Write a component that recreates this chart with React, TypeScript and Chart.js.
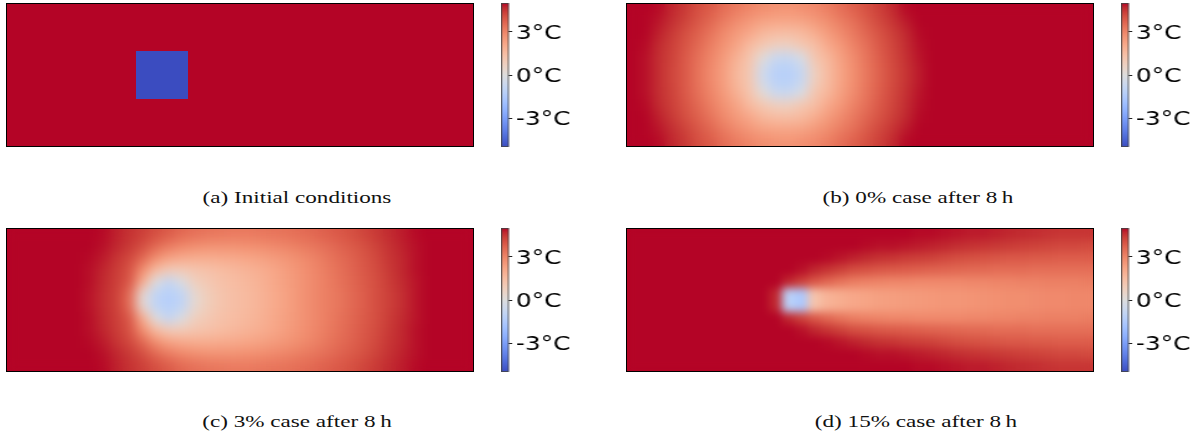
import React, { useEffect, useRef } from "react";
import { Chart, registerables } from "chart.js";

Chart.register(...registerables);

// ---------- colour scale (coolwarm) ----------
const CB_MIN = -5;
const CB_MAX = 5;
const cbTicks = [-3, 0, 3];
const COOLWARM: number[][] = [
  [59, 76, 192], [68, 90, 204], [77, 104, 215], [87, 117, 225], [98, 130, 234],
  [108, 142, 241], [119, 154, 247], [130, 165, 251], [141, 176, 254], [152, 185, 255],
  [163, 194, 255], [174, 201, 253], [184, 208, 249], [194, 213, 244], [204, 217, 238],
  [213, 219, 230], [221, 221, 221], [229, 216, 209], [236, 211, 197], [241, 204, 185],
  [245, 196, 173], [247, 187, 160], [247, 177, 148], [247, 166, 135], [244, 154, 123],
  [241, 141, 111], [236, 127, 99], [229, 112, 88], [222, 96, 77], [213, 80, 66],
  [203, 62, 56], [192, 40, 47], [180, 4, 38],
];

function coolwarm(v: number): string {
  const t = Math.min(1, Math.max(0, (v - CB_MIN) / (CB_MAX - CB_MIN)));
  const p = t * (COOLWARM.length - 1);
  const k = Math.min(COOLWARM.length - 2, Math.floor(p));
  const f = p - k;
  const a = COOLWARM[k];
  const b = COOLWARM[k + 1];
  const c = [0, 1, 2].map((i) => Math.round(a[i] + (b[i] - a[i]) * f));
  return `rgb(${c[0]}, ${c[1]}, ${c[2]})`;
}

// ---------- temperature fields (°C), 36 columns, rows listed top to bottom ----------
// (a) initial conditions
const aEdge = [5,5,5,5,5,5,5,5,5,5,5,5,5,5,5,5,5,5,5,5,5,5,5,5,5,5,5,5,5,5,5,5,5,5,5,5];
const aBlock = [5,5,5,5,5,5,5,5,5,5,-5,-5,-5,-5,5,5,5,5,5,5,5,5,5,5,5,5,5,5,5,5,5,5,5,5,5,5];
const fieldA = [aEdge, aEdge, aEdge, aEdge, aBlock, aBlock, aBlock, aBlock, aEdge, aEdge, aEdge, aEdge];

// (b) 0% case after 8 h
const b66 = [5,5,4.95,4.7,4.45,4.1,3.85,3.5,3.2,3.0,2.8,2.7,2.65,2.75,2.9,3.15,3.45,3.75,4.05,4.35,4.65,4.95,5,5,5,5,5,5,5,5,5,5,5,5,5,5];
const b54 = [5,5,4.85,4.6,4.3,3.95,3.6,3.2,2.85,2.55,2.3,2.2,2.2,2.25,2.5,2.8,3.15,3.45,3.85,4.2,4.5,4.8,5,5,5,5,5,5,5,5,5,5,5,5,5,5];
const b42 = [5,5,4.75,4.45,4.1,3.75,3.35,2.9,2.5,2.15,1.7,1.5,1.45,1.6,2.0,2.45,2.85,3.25,3.65,4.0,4.35,4.65,4.95,5,5,5,5,5,5,5,5,5,5,5,5,5];
const b30 = [5,4.95,4.65,4.35,4.0,3.6,3.15,2.7,2.25,1.6,1.15,0.8,0.75,1.15,1.45,2.1,2.55,3.05,3.45,3.9,4.25,4.6,4.9,5,5,5,5,5,5,5,5,5,5,5,5,5];
const b18 = [5,4.9,4.6,4.3,3.9,3.45,3.0,2.5,1.9,1.25,0.2,-0.7,-0.75,-0.2,1.2,1.7,2.35,2.85,3.35,3.8,4.2,4.55,4.85,5,5,5,5,5,5,5,5,5,5,5,5,5];
const b06 = [5,4.9,4.6,4.25,3.9,3.4,2.9,2.4,1.7,1.15,-0.5,-1.2,-1.25,-0.8,0.8,1.55,2.25,2.8,3.3,3.75,4.15,4.5,4.8,5,5,5,5,5,5,5,5,5,5,5,5,5];
const fieldB = [b66, b54, b42, b30, b18, b06, b06, b18, b30, b42, b54, b66];

// (c) 3% case after 8 h
const c66 = [5,5,5,5,5,5,5,4.95,4.75,4.55,4.35,4.1,3.85,3.6,3.45,3.35,3.3,3.25,3.25,3.3,3.35,3.4,3.5,3.6,3.75,3.9,4.05,4.25,4.45,4.65,4.8,4.95,5,5,5,5];
const c54 = [5,5,5,5,5,5,5,4.9,4.7,4.45,4.1,3.6,3.2,2.95,2.8,2.7,2.7,2.7,2.75,2.8,2.9,3.0,3.15,3.3,3.45,3.65,3.85,4.05,4.3,4.55,4.75,4.9,5,5,5,5];
const c42 = [5,5,5,5,5,5,4.95,4.8,4.5,4.2,3.6,2.8,2.3,2.1,2.0,2.0,2.05,2.1,2.2,2.3,2.45,2.6,2.8,3.0,3.25,3.5,3.7,3.95,4.2,4.5,4.7,4.9,5,5,5,5];
const c30 = [5,5,5,5,5,5,4.9,4.7,4.4,4.0,2.8,1.6,1.0,1.0,1.2,1.35,1.5,1.65,1.8,1.95,2.15,2.4,2.65,2.9,3.15,3.4,3.65,3.9,4.15,4.45,4.7,4.9,5,5,5,5];
const c18 = [5,5,5,5,5,5,4.9,4.65,4.35,3.9,2.0,0.0,-0.9,-0.1,0.8,1.1,1.35,1.5,1.65,1.85,2.1,2.35,2.6,2.85,3.1,3.35,3.6,3.85,4.1,4.4,4.65,4.85,5,5,5,5];
const c06 = [5,5,5,5,5,5,4.85,4.6,4.3,3.5,0.3,-1.0,-1.3,-1.0,0.3,0.9,1.25,1.45,1.6,1.8,2.05,2.3,2.6,2.85,3.1,3.3,3.55,3.8,4.1,4.35,4.6,4.85,5,5,5,5];
const fieldC = [c66, c54, c42, c30, c18, c06, c06, c18, c30, c42, c54, c66];

// (d) 15% case after 8 h
const d66 = [5,5,5,5,5,5,5,5,5,5,5,5,5,5,5,5,5,5,5,5,5,5,4.95,4.95,4.9,4.85,4.8,4.8,4.75,4.7,4.65,4.6,4.55,4.5,4.5,4.5];
const d54 = [5,5,5,5,5,5,5,5,5,5,5,5,5,5,5,5,5,5,4.95,4.9,4.9,4.85,4.8,4.75,4.7,4.6,4.55,4.5,4.45,4.4,4.35,4.3,4.25,4.2,4.2,4.15];
const d42 = [5,5,5,5,5,5,5,5,5,5,5,5,5,5,5,4.95,4.85,4.75,4.65,4.55,4.5,4.4,4.35,4.3,4.2,4.1,4.05,4.0,3.95,3.9,3.9,3.85,3.85,3.8,3.8,3.8];
const d30 = [5,5,5,5,5,5,5,5,5,5,5,5,5,4.9,4.7,4.5,4.3,4.1,4.0,3.9,3.85,3.8,3.75,3.7,3.65,3.6,3.55,3.55,3.5,3.5,3.5,3.45,3.45,3.45,3.45,3.45];
const d18 = [5,5,5,5,5,5,5,5,5,5,5,5,4.7,4.3,3.9,3.6,3.35,3.15,3.05,3.0,2.95,2.95,2.9,2.9,2.9,2.9,2.95,2.95,3.0,3.0,3.05,3.05,3.1,3.1,3.1,3.15];
const d06 = [5,5,5,5,5,5,5,5,5,5,5,4.7,-1.2,-1.6,1.3,1.8,2.0,2.15,2.25,2.35,2.4,2.45,2.5,2.55,2.6,2.6,2.65,2.7,2.75,2.8,2.8,2.85,2.9,2.9,2.95,2.95];
const fieldD = [d66, d54, d42, d30, d18, d06, d06, d18, d30, d42, d54, d66];

const captions = [
  "(a) Initial conditions",
  "(b) 0% case after 8\u2009h",
  "(c) 3% case after 8\u2009h",
  "(d) 15% case after 8\u2009h",
];

// ---------- layout ----------
const HM_W = 468;
const HM_H = 144;
const CB_STRETCH = 1.24;
const CB_CW = 80;
const CB_CH = 150;
const CB_BAR = 8 / CB_STRETCH;

const framePlugin = (color: string, width: number) => ({
  id: "frame",
  afterDraw(chart: any) {
    const { ctx, chartArea: a } = chart;
    ctx.save();
    ctx.strokeStyle = color;
    ctx.lineWidth = width;
    ctx.strokeRect(a.left + 0.5, a.top + 0.5, a.right - a.left - 1, a.bottom - a.top - 1);
    ctx.restore();
  },
});

// smooth shading of the drawn cells (like gouraud shading), blurred copy laid over the cells
const smoothPlugin = (radius: number) => ({
  id: "smooth",
  afterDatasetsDraw(chart: any) {
    if (radius <= 0) return;
    const { ctx, canvas, chartArea: a } = chart;
    const off = document.createElement("canvas");
    off.width = canvas.width;
    off.height = canvas.height;
    const octx = off.getContext("2d");
    if (!octx) return;
    octx.drawImage(canvas, 0, 0);
    ctx.save();
    ctx.setTransform(1, 0, 0, 1, 0, 0);
    ctx.beginPath();
    ctx.rect(a.left, a.top, a.right - a.left, a.bottom - a.top);
    ctx.clip();
    ctx.filter = `blur(${radius}px)`;
    ctx.drawImage(off, 0, 0);
    ctx.drawImage(off, 0, 0);
    ctx.restore();
  },
});

function Heatmap({ field, left, top, smooth }: { field: number[][]; left: number; top: number; smooth: number }) {
  const ref = useRef<HTMLCanvasElement>(null);
  useEffect(() => {
    const bottomUp = [...field].reverse();
    const chart = new Chart(ref.current as HTMLCanvasElement, {
      type: "bar",
      data: {
        labels: field[0].map((_, j) => String(j)),
        datasets: bottomUp.map((row) => ({
          data: row.map(() => 1),
          backgroundColor: row.map(coolwarm),
          borderWidth: 0,
          barPercentage: 1,
          categoryPercentage: 1,
          inflateAmount: 0,
        })),
      } as any,
      options: {
        animation: false,
        responsive: false,
        maintainAspectRatio: false,
        events: [],
        layout: { padding: 0 },
        plugins: { legend: { display: false }, tooltip: { enabled: false } },
        scales: {
          x: { display: false, stacked: true },
          y: { display: false, stacked: true, min: 0, max: field.length },
        },
      } as any,
      plugins: [smoothPlugin(smooth), framePlugin("#000", 1)],
    });
    return () => chart.destroy();
  }, [field, smooth]);
  return (
    <canvas
      ref={ref}
      width={HM_W}
      height={HM_H}
      style={{ position: "absolute", left, top, width: HM_W, height: HM_H }}
    />
  );
}

function Colorbar({ left, top }: { left: number; top: number }) {
  const ref = useRef<HTMLCanvasElement>(null);
  useEffect(() => {
    const chart = new Chart(ref.current as HTMLCanvasElement, {
      type: "bar",
      data: {
        labels: [""],
        datasets: [
          {
            data: [[CB_MIN, CB_MAX]],
            borderWidth: 0,
            barPercentage: 1,
            categoryPercentage: 1,
            inflateAmount: 0,
            backgroundColor: (c: any) => {
              const area = c.chart.chartArea;
              if (!area) return "#ddd";
              const g = c.chart.ctx.createLinearGradient(0, area.bottom, 0, area.top);
              COOLWARM.forEach((col, k) =>
                g.addColorStop(k / (COOLWARM.length - 1), `rgb(${col[0]}, ${col[1]}, ${col[2]})`)
              );
              return g;
            },
          },
        ],
      } as any,
      options: {
        animation: false,
        responsive: false,
        maintainAspectRatio: false,
        events: [],
        layout: { padding: { top: 3, bottom: 3, left: 0, right: 0 } },
        plugins: { legend: { display: false }, tooltip: { enabled: false } },
        scales: {
          x: { display: false },
          y: {
            position: "right",
            min: CB_MIN,
            max: CB_MAX,
            afterBuildTicks: (axis: any) => {
              axis.ticks = cbTicks.map((v) => ({ value: v }));
            },
            afterFit: (axis: any) => {
              axis.width = CB_CW - CB_BAR;
              axis.paddingTop = 0;
              axis.paddingBottom = 0;
            },
            ticks: {
              callback: (v: any) => `${v}°C`,
              color: "#000",
              font: { family: "DejaVu Sans", size: 20 },
              padding: 3,
              labelOffset: 2,
            },
            grid: {
              display: true,
              drawOnChartArea: false,
              drawTicks: true,
              tickLength: 2.6,
              color: "#222",
              lineWidth: 1,
            },
            border: { display: false },
          },
        },
      } as any,
      plugins: [framePlugin("#444", 0.8)],
    });
    return () => chart.destroy();
  }, []);
  return (
    <div
      style={{
        position: "absolute",
        left,
        top,
        width: CB_CW,
        height: CB_CH,
        transform: `scaleX(${CB_STRETCH})`,
        transformOrigin: "0 0",
      }}
    >
      <canvas ref={ref} width={CB_CW} height={CB_CH} style={{ width: CB_CW, height: CB_CH }} />
    </div>
  );
}

function Caption({ text, cx, cy }: { text: string; cx: number; cy: number }) {
  return (
    <div
      style={{
        position: "absolute",
        left: cx,
        top: cy,
        transform: "translate(-50%, -50%) scaleX(1.36)",
        whiteSpace: "nowrap",
        fontFamily: "'Liberation Serif', serif",
        fontSize: 17,
        color: "#111",
        lineHeight: 1,
      }}
    >
      {text}
    </div>
  );
}

export default function App() {
  return (
    <div
      style={{
        position: "fixed",
        left: 0,
        top: 0,
        width: 1196,
        height: 434,
        background: "#fff",
        overflow: "hidden",
      }}
    >
      <Heatmap field={fieldA} left={6} top={3} smooth={0} />
      <Heatmap field={fieldB} left={626} top={3} smooth={6} />
      <Heatmap field={fieldC} left={6} top={228} smooth={6} />
      <Heatmap field={fieldD} left={626} top={228} smooth={4} />
      <Colorbar left={501} top={0} />
      <Colorbar left={1121} top={0} />
      <Colorbar left={501} top={225} />
      <Colorbar left={1121} top={225} />
      <Caption text={captions[0]} cx={297} cy={197} />
      <Caption text={captions[1]} cx={918} cy={197} />
      <Caption text={captions[2]} cx={297} cy={421} />
      <Caption text={captions[3]} cx={916} cy={421} />
    </div>
  );
}
